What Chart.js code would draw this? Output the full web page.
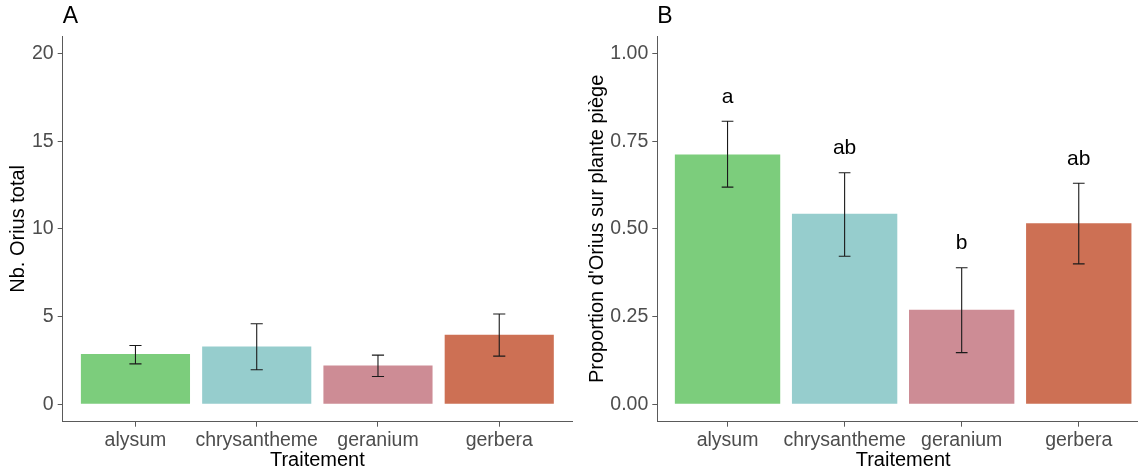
<!DOCTYPE html>
<html>
<head>
<meta charset="utf-8">
<script src="https://cdn.jsdelivr.net/npm/chart.js@4.4.1/dist/chart.umd.min.js"></script>
<style>
  html, body { margin:0; padding:0; background:#fff; overflow:hidden; width:1138px; height:471px; }
  #wa { position:absolute; left:0; top:0; width:590px; height:471px; }
  #wb { position:absolute; left:575px; top:0; width:600px; height:471px; }
</style>
</head>
<body>
<div id="wa"><canvas id="ca"></canvas></div>
<div id="wb"><canvas id="cb"></canvas></div>
<script>
// ---- data ----
const categories = ['alysum', 'chrysantheme', 'geranium', 'gerbera'];
const barColors = ['#7CCD7C', '#96CDCD', '#CD8C95', '#CD7054'];

const countMean = [2.86, 3.29, 2.21, 3.96];
const countLow  = [2.30, 1.96, 1.58, 2.74];
const countHigh = [3.35, 4.59, 2.80, 5.14];
const countTicks = [0, 5, 10, 15, 20];

const propMean = [0.712, 0.543, 0.269, 0.516];
const propLow  = [0.619, 0.422, 0.147, 0.400];
const propHigh = [0.807, 0.660, 0.389, 0.630];
const propTicks = [0, 0.25, 0.5, 0.75, 1];

const letters   = ['a', 'ab', 'b', 'ab'];
const letterPos = [0.875, 0.730, 0.460, 0.700];

const FONT = "'Liberation Sans', Arial, sans-serif";
const AXIS = '#5a5a5a';

const errPlugin = {
  id: 'err',
  afterDatasetsDraw(chart, args, opts) {
    const {ctx, scales: {x, y}} = chart;
    ctx.save();
    ctx.strokeStyle = '#1a1a1a';
    ctx.lineWidth = 1.1;
    opts.low.forEach((lo, i) => {
      const hi = opts.high[i];
      const xc = x.getPixelForValue(i + 1);
      const xl = x.getPixelForValue(i + 1 - 0.05);
      const xr = x.getPixelForValue(i + 1 + 0.05);
      const yl = y.getPixelForValue(lo), yh = y.getPixelForValue(hi);
      ctx.beginPath();
      ctx.moveTo(xc, yl); ctx.lineTo(xc, yh);
      ctx.moveTo(xl, yl); ctx.lineTo(xr, yl);
      ctx.moveTo(xl, yh); ctx.lineTo(xr, yh);
      ctx.stroke();
    });
    if (opts.letters) {
      ctx.fillStyle = '#000';
      ctx.font = '21px ' + FONT;
      ctx.textAlign = 'center';
      ctx.textBaseline = 'middle';
      opts.letters.forEach((t, i) => {
        ctx.fillText(t, x.getPixelForValue(i + 1), y.getPixelForValue(opts.letterPos[i]));
      });
    }
    // panel tag
    ctx.fillStyle = '#000';
    ctx.font = '23px ' + FONT;
    ctx.textAlign = 'left';
    ctx.textBaseline = 'middle';
    ctx.fillText(opts.tag, chart.chartArea.left, 17);
    ctx.restore();
  }
};

function makeChart(id, cfg) {
  return new Chart(document.getElementById(id), {
    type: 'bar',
    data: {
      datasets: [{
        data: cfg.mean.map((v, i) => ({x: i + 1, y: v})),
        backgroundColor: barColors,
        borderWidth: 0,
        barPercentage: 0.9,
        categoryPercentage: 1.0
      }]
    },
    options: {
      responsive: true,
      maintainAspectRatio: false,
      animation: false,
      layout: { padding: { top: 36, right: cfg.padRight, left: 0, bottom: 0 } },
      plugins: {
        legend: { display: false },
        tooltip: { enabled: false },
        err: { low: cfg.low, high: cfg.high, letters: cfg.letters, letterPos: cfg.letterPos, tag: cfg.tag }
      },
      scales: {
        x: {
          type: 'linear',
          offset: false,
          min: 0.4, max: 4.6,
          afterBuildTicks: s => { s.ticks = categories.map((c, i) => ({value: i + 1})); },
          afterFit: s => { s.height = 49.3; },
          ticks: {
            callback: v => categories[v - 1],
            color: '#4D4D4D',
            font: { family: FONT, size: 19.5 },
            padding: 2,
            maxRotation: 0,
            autoSkip: false
          },
          grid: { offset: false, drawOnChartArea: false, drawTicks: true, tickLength: 5, color: AXIS },
          border: { display: true, color: AXIS, width: 1 },
          title: {
            display: true, text: 'Traitement', color: '#000',
            font: { family: FONT, size: 20, lineHeight: 1.1 },
            padding: { top: 0, bottom: 0 }
          }
        },
        y: {
          type: 'linear',
          min: cfg.ymin, max: cfg.ymax,
          afterBuildTicks: s => { s.ticks = cfg.ticks.map(v => ({value: v})); },
          afterFit: s => { s.width = cfg.yWidth; },
          ticks: {
            callback: cfg.fmt,
            color: '#4D4D4D',
            font: { family: FONT, size: 19.5 },
            padding: 4
          },
          grid: { drawOnChartArea: false, drawTicks: true, tickLength: 5, color: AXIS },
          border: { display: true, color: AXIS, width: 1 },
          title: {
            display: true, text: cfg.ytitle, color: '#000',
            font: { family: FONT, size: 20, lineHeight: 1.2 },
            padding: { top: cfg.titlePad, bottom: 0 }
          }
        }
      }
    },
    plugins: [errPlugin]
  });
}

makeChart('ca', {
  mean: countMean, low: countLow, high: countHigh, ticks: countTicks,
  ymin: -1, ymax: 21, fmt: v => String(v),
  ytitle: 'Nb. Orius total', yWidth: 62.7, titlePad: 6, padRight: 18, tag: 'A'
});

makeChart('cb', {
  mean: propMean, low: propLow, high: propHigh, ticks: propTicks,
  ymin: -0.05, ymax: 1.05, fmt: v => Number(v).toFixed(2),
  letters: letters, letterPos: letterPos,
  ytitle: "Proportion d'Orius sur plante piège", yWidth: 82.3, titlePad: 10, padRight: 26, tag: 'B'
});
</script>
</body>
</html>
